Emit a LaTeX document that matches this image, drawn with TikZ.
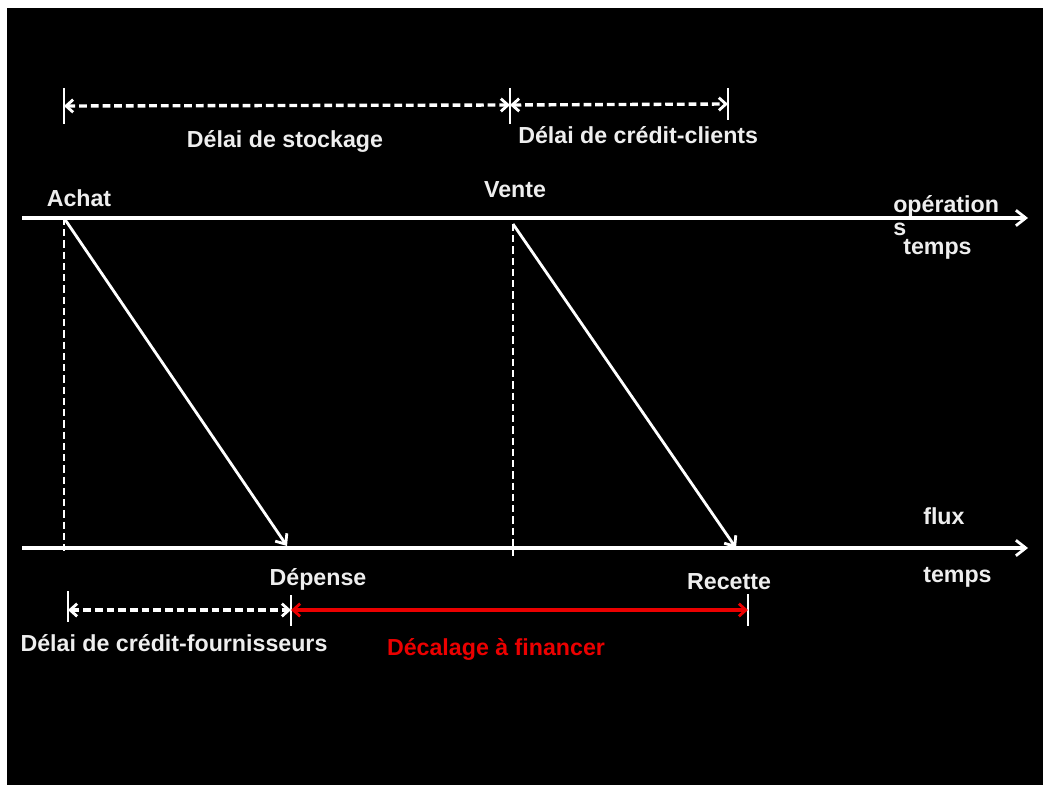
\documentclass[tikz,border=0pt]{standalone}
\usepackage{fontspec}
\setmainfont{Liberation Sans}
\usetikzlibrary{arrows.meta,positioning,calc}
\definecolor{decalred}{RGB}{235,0,0}
\definecolor{txtwhite}{RGB}{238,238,238}
\tikzset{
	axis/.style = {draw=white, line width=2.4pt, -{Straight Barb[length=7pt,width=11pt,line width=2pt]}},
	flow/.style = {draw=white, line width=2pt, -{Straight Barb[length=6pt,width=10pt,line width=2pt]}},
	guide/.style = {draw=white, line width=1.6pt, dash pattern=on 5pt off 3pt},
	span/.style = {draw=white, line width=2.4pt, dash pattern=on 5.5pt off 2.8pt, {Straight Barb[length=5pt,width=9pt,line width=2pt]}-{Straight Barb[length=5pt,width=9pt,line width=2pt]}},
	gap/.style = {draw=decalred, line width=2.4pt, {Straight Barb[length=5pt,width=9pt,line width=2pt]}-{Straight Barb[length=5pt,width=9pt,line width=2pt]}},
	tick/.style = {draw=white, line width=2pt},
	lbl/.style = {text=txtwhite, font=\bfseries\fontsize{16.5}{19}\selectfont, inner sep=0pt, anchor=base}
}

\begin{document}
\begin{tikzpicture}[x=0.025cm, y=-0.025cm]
	% ========================== Frame ============================
	\fill[white] (0,0) rectangle (1043,787);
	\fill[black] (7,8) rectangle (1043,785);

	% ========================== Nodes ============================
	% time axes
	\coordinate (opstart) at (22,218);
	\coordinate (opend) at (1028,218);
	\coordinate (fxstart) at (22,548);
	\coordinate (fxend) at (1028,548);
	% events on the axes
	\coordinate (achat) at (64,218);
	\coordinate (achatlow) at (64,555);
	\coordinate (vente) at (513,224);
	\coordinate (ventelow) at (513,556);
	\coordinate (depense) at (287,546);
	\coordinate (recette) at (736,548);

	% upper delays
	\coordinate (stockL) at (64,106);
	\coordinate (stockR) at (510,105);
	\coordinate (clientR) at (728,104);
	% lower delays
	\coordinate (fournL) at (68,610);
	\coordinate (fournR) at (291,610);
	\coordinate (decalR) at (748,610);

	\node[lbl] (achattxt) at (79,207) {Achat};
	\node[lbl] (ventetxt) at (515,198) {Vente};
	\node[lbl, anchor=base west] (optxt) at (893,213) {opération};
	\node[lbl, anchor=base west] (optxts) at (893,236) {s};
	\node[lbl, anchor=base west] (optemps) at (903,255) {temps};
	\node[lbl, anchor=base west] (fluxtxt) at (923,524) {flux};
	\node[lbl, anchor=base west] (fxtemps) at (923,582) {temps};
	\node[lbl] (deptxt) at (318,585) {Dépense};
	\node[lbl] (rectxt) at (729,589) {Recette};
	\node[lbl] (stocktxt) at (285,148) {Délai de stockage};
	\node[lbl, anchor=base west] (clienttxt) at (518,144) {Délai de crédit-clients};
	\node[lbl] (fourntxt) at (174,651) {Délai de crédit-fournisseurs};
	\node[lbl, text=decalred] (decaltxt) at (496,655) {Décalage à financer};

	% ========================== Lines ============================
	\draw[axis] (opstart) -- (opend);
	\draw[axis] (fxstart) -- (fxend);

	\draw[guide] (achat) -- (achatlow);
	\draw[guide] (vente) -- (ventelow);
	\draw[flow] (achat) -- (depense);
	\draw[flow] (vente) -- (recette);

	% delays above
	\draw[tick] ($(stockL)+(0,-18)$) -- ($(stockL)+(0,18)$);
	\draw[tick] ($(stockR)+(0,-17)$) -- ($(stockR)+(0,19)$);
	\draw[tick] ($(clientR)+(0,-16)$) -- ($(clientR)+(0,16)$);
	\draw[span] (stockL) -- (stockR);
	\draw[span] (stockR) -- (clientR);

	% delays below
	\draw[tick] ($(fournL)+(0,-19)$) -- ($(fournL)+(0,12)$);
	\draw[tick] ($(fournR)+(0,-15)$) -- ($(fournR)+(0,16)$);
	\draw[tick] ($(decalR)+(0,-16)$) -- ($(decalR)+(0,16)$);
	\draw[span] (fournL) -- (fournR);
	\draw[gap] (fournR) -- (decalR);
\end{tikzpicture}
\end{document}
